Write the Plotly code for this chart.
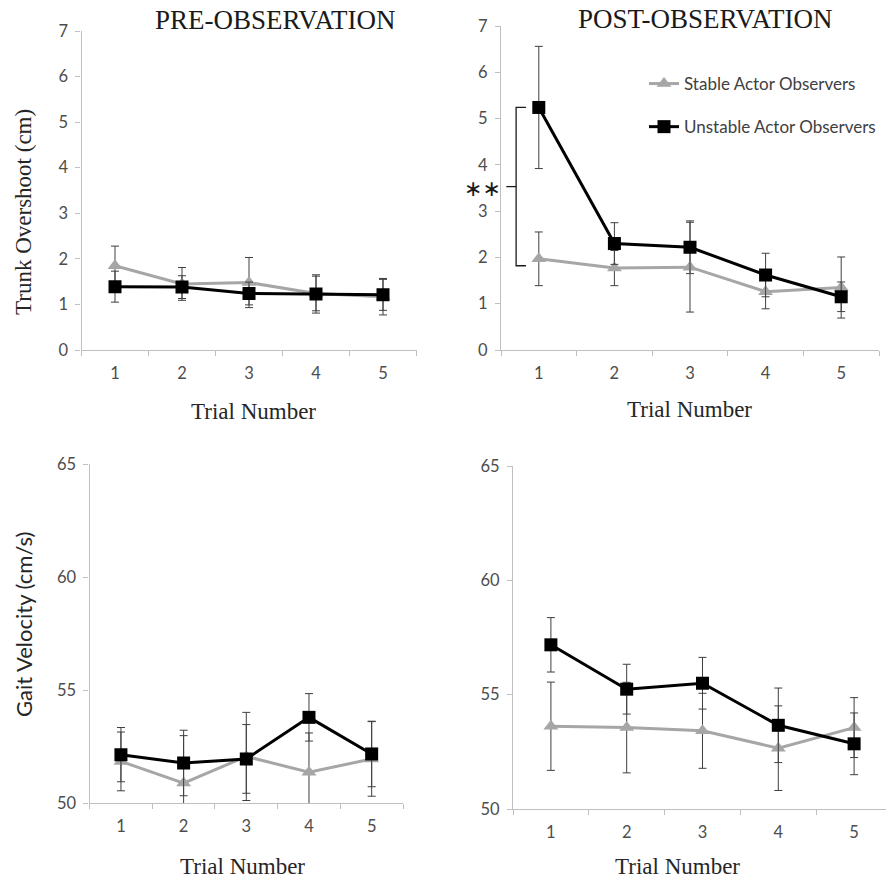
import plotly.graph_objects as go

trials = [1, 2, 3, 4, 5]

# Trunk overshoot (cm)
pre_trunk_stable = [1.85, 1.45, 1.48, 1.24, 1.17]
pre_trunk_stable_err = [0.43, 0.36, 0.55, 0.38, 0.40]
pre_trunk_unstable = [1.39, 1.38, 1.24, 1.23, 1.21]
pre_trunk_unstable_err = [0.34, 0.25, 0.25, 0.42, 0.34]

post_trunk_stable = [1.97, 1.77, 1.79, 1.26, 1.35]
post_trunk_stable_err = [0.58, 0.38, 0.97, 0.37, 0.66]
post_trunk_unstable = [5.24, 2.30, 2.22, 1.62, 1.15]
post_trunk_unstable_err = [1.32, 0.45, 0.57, 0.47, 0.32]

# Gait velocity (cm/s)
pre_gait_stable = [51.84, 50.88, 52.06, 51.36, 51.95]
pre_gait_stable_err = [1.30, 2.10, 1.95, 1.74, 1.65]
pre_gait_unstable = [52.14, 51.77, 51.95, 53.79, 52.17]
pre_gait_unstable_err = [1.20, 1.45, 1.52, 1.05, 1.45]

post_gait_stable = [53.62, 53.56, 53.42, 52.66, 53.56]
post_gait_stable_err = [1.93, 1.98, 1.64, 1.85, 1.31]
post_gait_unstable = [57.18, 55.24, 55.50, 53.66, 52.85]
post_gait_unstable_err = [1.19, 1.09, 1.13, 1.63, 1.35]

series_names = ["Stable Actor Observers", "Unstable Actor Observers"]
panel_titles = ["PRE-OBSERVATION", "POST-OBSERVATION"]
y_titles = ["Trunk Overshoot (cm)", "Gait Velocity (cm/s)"]
x_title = "Trial Number"
sig_label = "∗∗"

W, H = 886, 881
GRAY = "#A6A6A6"
ERR = "#3F3F3F"
AXC = "#BFBFBF"
TICKC = "#4D4D4D"
SERIF = "Liberation Serif"
SANS = "Lato"

fig = go.Figure()

def px_x(a, b):
    return [a / W, b / W]

def px_y(top, bottom):
    return [1 - bottom / H, 1 - top / H]

panels = [
    ("x", "y", pre_trunk_stable, pre_trunk_stable_err, pre_trunk_unstable, pre_trunk_unstable_err, False),
    ("x2", "y2", post_trunk_stable, post_trunk_stable_err, post_trunk_unstable, post_trunk_unstable_err, True),
    ("x3", "y3", pre_gait_stable, pre_gait_stable_err, pre_gait_unstable, pre_gait_unstable_err, False),
    ("x4", "y4", post_gait_stable, post_gait_stable_err, post_gait_unstable, post_gait_unstable_err, False),
]

for xa, ya, s, se, u, ue, sl in panels:
    fig.add_trace(go.Scatter(
        x=trials, y=s, xaxis=xa, yaxis=ya, mode="lines+markers",
        name=series_names[0], showlegend=sl, legendgroup="g1",
        line=dict(color=GRAY, width=3),
        marker=dict(symbol="triangle-up", size=13, color=GRAY),
        error_y=dict(type="data", array=se, visible=True, color=ERR, thickness=1, width=4),
    ))
    fig.add_trace(go.Scatter(
        x=trials, y=u, xaxis=xa, yaxis=ya, mode="lines+markers",
        name=series_names[1], showlegend=sl, legendgroup="g2",
        line=dict(color="black", width=3),
        marker=dict(symbol="square", size=13, color="black"),
        error_y=dict(type="data", array=ue, visible=True, color=ERR, thickness=1, width=4),
    ))

xdoms = [px_x(81.5, 416.5), px_x(501, 879), px_x(89.6, 403), px_x(513, 886)]
ydoms = [px_y(31, 350), px_y(26, 350), px_y(464, 803), px_y(466, 809)]
xranges = [[0.5, 5.5], [0.5, 5.5], [0.5, 5.5], [0.5, 5.5 - 6 / 75.75]]
yranges = [[0, 7], [0, 7], [50, 65], [50, 65]]
ydt = [1, 1, 5, 5]

tickfont = dict(family=SANS, size=16.5, color=TICKC)
for i in range(4):
    sfx = "" if i == 0 else str(i + 1)
    fig.layout["xaxis" + sfx] = dict(
        domain=xdoms[i], range=xranges[i], anchor="y" + sfx,
        showline=True, linecolor=AXC, linewidth=1.3,
        showgrid=False, zeroline=False, automargin=False,
        tickmode="array", tickvals=trials, ticktext=[str(t) for t in trials],
        ticks="", tickfont=tickfont, ticklabelstandoff=8,
        minor=dict(tickvals=[0.5, 1.5, 2.5, 3.5, 4.5, 5.5], ticks="outside",
                   ticklen=5, tickcolor=AXC, tickwidth=1.3, showgrid=False),
    )
    fig.layout["yaxis" + sfx] = dict(
        domain=ydoms[i], range=yranges[i], anchor="x" + sfx,
        showline=True, linecolor=AXC, linewidth=1.3,
        showgrid=False, zeroline=False, automargin=False,
        tick0=yranges[i][0], dtick=ydt[i],
        ticks="outside", ticklen=5, tickcolor=AXC, tickwidth=1.3,
        tickfont=tickfont, ticklabelstandoff=4,
    )

ann = []
def add_text(text, x, y, font, angle=0):
    ann.append(dict(text=text, x=x / W, y=1 - y / H, xref="paper", yref="paper",
                    showarrow=False, xanchor="center", yanchor="middle",
                    textangle=angle, font=font))

titlefont = dict(family=SERIF, size=27, color="#1A1A1A")
axfont = dict(family=SERIF, size=23, color="#262626")
add_text(panel_titles[0], 275, 20, titlefont)
add_text(panel_titles[1], 705, 19, titlefont)
add_text(y_titles[0], 23, 212, axfont, -90)
add_text(y_titles[1], 23, 625, dict(family=SANS, size=22, color="#262626"), -90)
add_text(x_title, 253, 411, axfont)
add_text(x_title, 689, 409, axfont)
add_text(x_title, 242, 866, axfont)
add_text(x_title, 677, 866, axfont)
add_text(sig_label, 482, 188, dict(family="DejaVu Sans", size=22, color="#1A1A1A"))
fig.update_layout(annotations=ann)

# significance bracket between trial 1 means (post-observation)
top = post_trunk_unstable[0]
bot = post_trunk_stable[0] - 0.15
mid = (top + bot) / 2
bx, bt, bm = 0.70, 0.83, 0.57
fig.add_shape(type="path", xref="x2", yref="y2",
              path=f"M {bt} {top} L {bx} {top} L {bx} {bot} L {bt} {bot}",
              line=dict(color="#1A1A1A", width=1.3))
fig.add_shape(type="line", xref="x2", yref="y2", x0=bm, x1=bx, y0=mid, y1=mid,
              line=dict(color="#1A1A1A", width=1.3))

fig.update_layout(
    width=W, height=H,
    margin=dict(l=0, r=0, t=0, b=0, autoexpand=False),
    paper_bgcolor="white", plot_bgcolor="white",
    legend=dict(x=644 / W, y=1 - 66 / H, xanchor="left", yanchor="top",
                font=dict(family=SANS, size=17, color="#404040"),
                bgcolor="rgba(0,0,0,0)", traceorder="grouped", tracegroupgap=18,
                itemwidth=30),
    showlegend=True,
)

fig.write_html("out.html")
